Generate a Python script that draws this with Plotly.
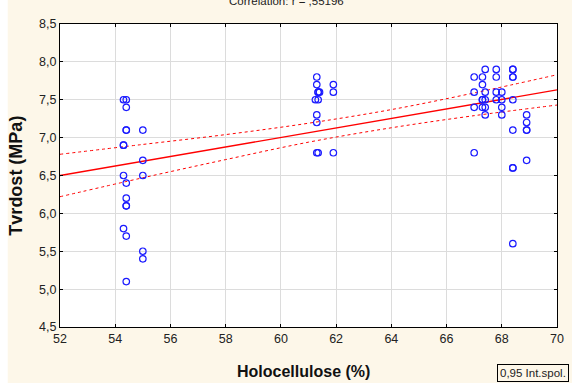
import plotly.graph_objects as go

# Data (Holocellulose %, Tvrdost MPa)
holo = [54.3, 54.3, 54.3, 54.3, 54.3,
        54.4, 54.4, 54.4, 54.4, 54.4, 54.4, 54.4, 54.4, 54.4, 54.4,
        55.0, 55.0, 55.0, 55.0, 55.0,
        61.3, 61.3, 61.9, 61.35, 61.35, 61.4, 61.9, 61.25, 61.35, 61.3, 61.3, 61.3, 61.35, 61.9,
        67.4, 67.8, 67.8, 68.4, 68.4, 68.4, 68.4, 67.0, 67.3, 67.3,
        67.0, 67.4, 67.8, 68.0,
        67.3, 67.3, 67.4, 67.8, 68.0, 68.4,
        67.0, 67.3, 67.4, 68.0,
        67.4, 68.0, 68.9, 68.9, 68.9, 68.9, 68.4,
        67.0, 68.9, 68.4, 68.4, 68.4]
tvrdost = [7.5, 6.9, 6.9, 6.5, 5.8,
           7.5, 7.4, 7.1, 7.1, 6.4, 6.2, 6.1, 6.1, 5.7, 5.1,
           7.1, 6.7, 6.5, 5.5, 5.4,
           7.8, 7.7, 7.7, 7.6, 7.6, 7.6, 7.6, 7.5, 7.5, 7.3, 7.2, 6.8, 6.8, 6.8,
           7.9, 7.9, 7.8, 7.9, 7.9, 7.8, 7.8, 7.8, 7.8, 7.7,
           7.6, 7.6, 7.6, 7.6,
           7.5, 7.5, 7.5, 7.5, 7.5, 7.5,
           7.4, 7.4, 7.4, 7.4,
           7.3, 7.3, 7.3, 7.2, 7.1, 7.1, 7.1,
           6.8, 6.7, 6.6, 6.6, 5.6]

# Regression line and 0.95 confidence band
fit_x = [52, 70]
fit_y = [6.50, 7.63]
band_x = [52, 55, 58, 61, 64, 67, 70]
band_upper = [6.78, 6.91, 7.04, 7.19, 7.37, 7.59, 7.83]
band_lower = [6.22, 6.47, 6.71, 6.94, 7.13, 7.29, 7.43]

x_ticks = [52, 54, 56, 58, 60, 62, 64, 66, 68, 70]
x_ticklabels = ["52", "54", "56", "58", "60", "62", "64", "66", "68", "70"]
y_ticks = [4.5, 5.0, 5.5, 6.0, 6.5, 7.0, 7.5, 8.0, 8.5]
y_ticklabels = ["4,5", "5,0", "5,5", "6,0", "6,5", "7,0", "7,5", "8,0", "8,5"]

title_text = "Correlation: r = ,55196"
x_title = "Holocellulose (%)"
y_title = "Tvrdost (MPa)"
legend_text = "0,95 Int.spol."

fig = go.Figure()
fig.add_trace(go.Scatter(x=band_x, y=band_upper, mode="lines",
                         line=dict(color="#ff0000", width=1, dash="dot", shape="spline"),
                         hoverinfo="skip", showlegend=False))
fig.add_trace(go.Scatter(x=band_x, y=band_lower, mode="lines",
                         line=dict(color="#ff0000", width=1, dash="dot", shape="spline"),
                         hoverinfo="skip", showlegend=False))
fig.add_trace(go.Scatter(x=fit_x, y=fit_y, mode="lines",
                         line=dict(color="#ff0000", width=1.3),
                         hoverinfo="skip", showlegend=False))
fig.add_trace(go.Scatter(x=holo, y=tvrdost, mode="markers",
                         marker=dict(symbol="circle-open", size=6.5, color="#1a1aff",
                                     line=dict(width=1.2, color="#1a1aff")),
                         showlegend=False))

axis_common = dict(showline=True, linecolor="black", linewidth=1, mirror="ticks",
                   ticks="inside", ticklen=3, tickcolor="black",
                   showgrid=True, gridcolor="#dcdcdc", gridwidth=1,
                   zeroline=False, tickfont=dict(family="Liberation Sans, Arial", size=12.5, color="#222"))

fig.update_xaxes(range=[52, 70], tickmode="array", tickvals=x_ticks, ticktext=x_ticklabels,
                 **axis_common)
fig.update_yaxes(range=[4.5, 8.5], tickmode="array", tickvals=y_ticks, ticktext=y_ticklabels,
                 **axis_common)

fig.update_layout(
    width=572, height=383,
    margin=dict(l=60, r=8, t=24, b=56),
    paper_bgcolor="#fdf7e9", plot_bgcolor="white",
    font=dict(family="Liberation Sans, Arial", color="#222"),
    shapes=[dict(type="rect", xref="paper", yref="paper",
                 x0=-0.2, x1=(7 - 60) / 504, y0=-0.3, y1=1.2,
                 fillcolor="white", line=dict(width=0), layer="below")],
    annotations=[
        dict(text=title_text, xref="paper", yref="paper", x=(290 - 60) / 504, y=1.049,
             xanchor="center", yanchor="bottom", showarrow=False,
             font=dict(size=11.5, color="#222")),
        dict(text="<b>" + y_title + "</b>", xref="paper", yref="paper",
             x=(14.5 - 60) / 504, y=0.5, textangle=-90, xanchor="center", yanchor="middle",
             showarrow=False, font=dict(size=18, color="#111")),
        dict(text="<b>" + x_title + "</b>", xref="paper", yref="paper",
             x=(307 - 60) / 504, y=-(371 - 327) / 303, xanchor="center", yanchor="middle",
             showarrow=False, font=dict(size=16, color="#111")),
        dict(text=legend_text, xref="paper", yref="paper",
             x=(503 - 60) / 504, y=-(364 - 327) / 303, xanchor="left", yanchor="top",
             showarrow=False, bordercolor="black", borderwidth=1, borderpad=2,
             bgcolor="#fdf7e9", font=dict(size=11.5, color="#222")),
    ],
)

fig.write_html("out.html", config={"displayModeBar": False},
               post_script="document.body.style.margin='0';document.body.style.overflow='hidden';")
